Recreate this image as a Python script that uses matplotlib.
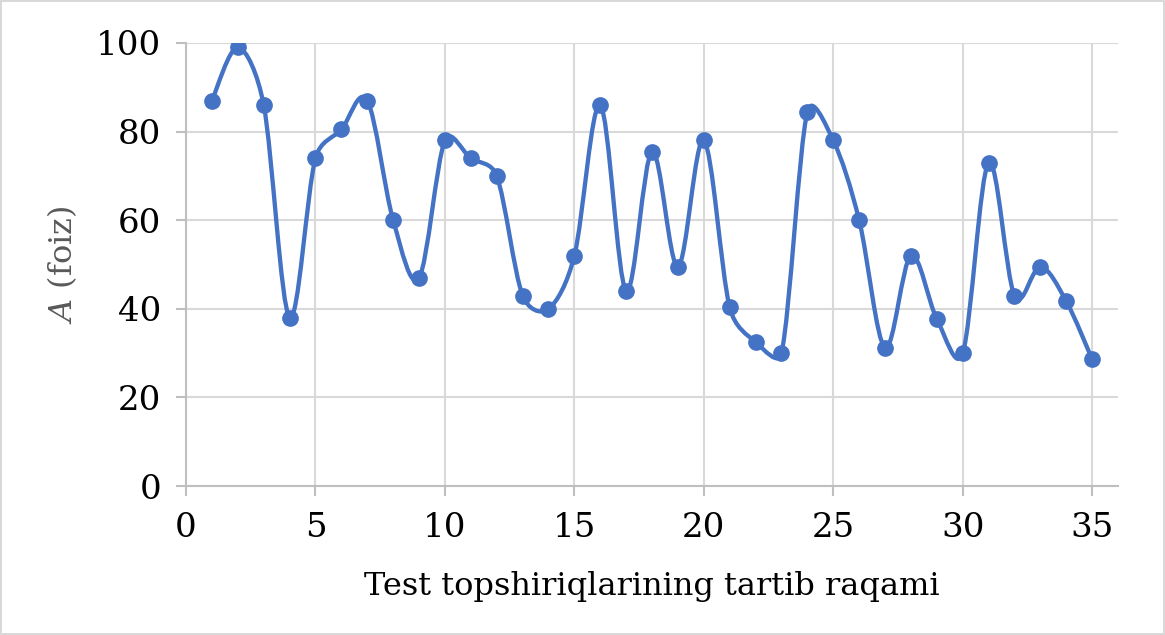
import matplotlib
matplotlib.use('Agg')
import matplotlib.pyplot as plt
import numpy as np
from matplotlib.path import Path
from matplotlib.patches import PathPatch

# test item number and share of correct answers (percent)
items = list(range(1, 36))
percent = [87, 99, 86, 38, 74, 80.5, 87, 60, 47, 78,
           74, 70, 43, 40, 52, 86, 44, 75.5, 49.5, 78,
           40.3, 32.5, 30, 84.5, 78, 60, 31.2, 52, 37.7, 30,
           73, 43, 49.5, 41.7, 28.6]

xticks = [0, 5, 10, 15, 20, 25, 30, 35]
yticks = [0, 20, 40, 60, 80, 100]

blue = '#4472C4'
grid_col = '#D9D9D9'
axis_col = '#BFBFBF'

plt.rcParams['font.family'] = ['DejaVu Serif']
plt.rcParams['mathtext.fontset'] = 'dejavuserif'

fig = plt.figure(figsize=(11.65, 6.35), dpi=100)
fig.patch.set_edgecolor('#D9D9D9')
fig.patch.set_linewidth(1.5)
ax = fig.add_axes([0.1597, 0.2346, 0.80, 0.6977])
ax.set_xlim(0, 36)
ax.set_ylim(0, 100)

# smooth line like Excel: Catmull-Rom style Bezier, handles capped in screen space
pts = ax.transData.transform(np.column_stack([items, percent]))
p = np.vstack([pts[0], pts, pts[-1]])
verts = [pts[0]]
codes = [Path.MOVETO]
for i in range(1, len(pts)):
    p0, p1, p2, p3 = p[i - 1], p[i], p[i + 1], p[i + 2]
    d12 = np.hypot(*(p2 - p1))
    d02 = np.hypot(*(p2 - p0))
    d13 = np.hypot(*(p3 - p1))
    f1 = 1 / 6 if d02 / 6 < d12 / 2 else (d12 / 2) / d02
    f2 = 1 / 6 if d13 / 6 < d12 / 2 else (d12 / 2) / d13
    verts += [p1 + f1 * (p2 - p0), p2 - f2 * (p3 - p1), p2]
    codes += [Path.CURVE4] * 3
verts = ax.transData.inverted().transform(np.array(verts))
ax.add_patch(PathPatch(Path(verts, codes), facecolor='none', edgecolor=blue,
                       lw=3.1, capstyle='round', joinstyle='round', zorder=3))
ax.plot(items, percent, 'o', color=blue, markersize=11, zorder=4)

ax.set_xticks(xticks)
ax.set_yticks(yticks)
ax.grid(True, color=grid_col, lw=1.5)
ax.set_axisbelow(True)
for s in ['top', 'right']:
    ax.spines[s].set_visible(False)
for s in ['left', 'bottom']:
    ax.spines[s].set_color(axis_col)
    ax.spines[s].set_linewidth(1.5)
ax.tick_params(axis='both', colors=axis_col, length=7, width=1.5,
               labelcolor='black', labelsize=24.5)
ax.tick_params(axis='y', pad=11)
ax.tick_params(axis='x', pad=12)

ax.set_xlabel('Test topshiriqlarining tartib raqami', fontsize=23, labelpad=19)
ax.set_ylabel(r'$\mathit{A}$ (foiz)', fontsize=23, color='#595959', labelpad=12)

fig.savefig('out.png', dpi=100, edgecolor=fig.get_edgecolor())
